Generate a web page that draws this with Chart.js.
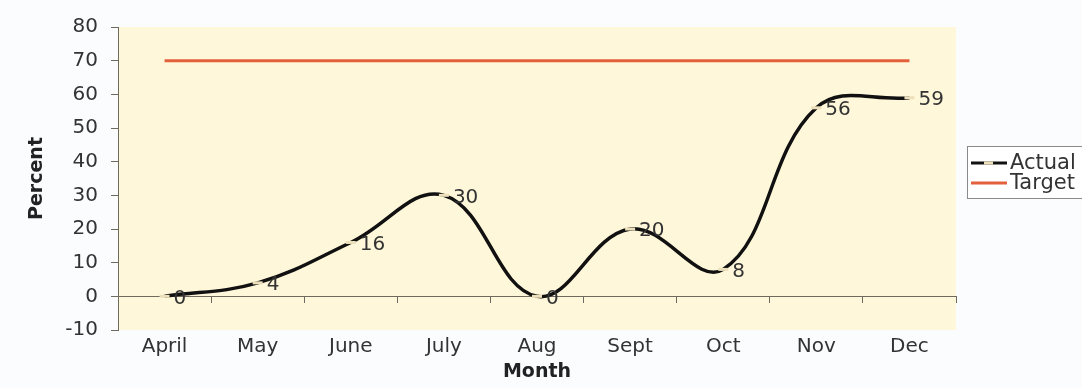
<!DOCTYPE html>
<html>
<head>
<meta charset="utf-8">
<script src="https://cdn.jsdelivr.net/npm/chart.js@4"></script>
<style>
  html, body { margin: 0; padding: 0; background: #fbfcfe; overflow: hidden; }
  canvas { display: block; }
</style>
</head>
<body>
<canvas id="chart" width="1082" height="388"></canvas>
<script>
// values
const months = ['April', 'May', 'June', 'July', 'Aug', 'Sept', 'Oct', 'Nov', 'Dec'];
const actual = [0, 4, 16, 30, 0, 20, 8, 56, 59];
const target = [70, 70, 70, 70, 70, 70, 70, 70, 70];
const yMin = -10;
const yMax = 80;
const yStep = 10;

const FONT = 'DejaVu Sans';
const TEXT = '#333333';
const AXIS = '#6f6a5e';
const LINE_ACTUAL = '#111111';
const LINE_TARGET = '#e2603c';
const MARKER = '#ece0bb';

const plotBg = {
    id: 'plotBg',
    beforeDraw(chart) {
        const { ctx, chartArea: a } = chart;
        ctx.save();
        ctx.fillStyle = '#fff7d9';
        ctx.fillRect(a.left, a.top, a.right - a.left, a.bottom - a.top);
        ctx.restore();
    }
};

const valueLabels = {
    id: 'valueLabels',
    afterDatasetsDraw(chart) {
        const { ctx } = chart;
        const meta = chart.getDatasetMeta(0);
        ctx.save();
        ctx.font = '20px "' + FONT + '"';
        ctx.fillStyle = TEXT;
        ctx.textAlign = 'left';
        ctx.textBaseline = 'middle';
        meta.data.forEach((pt, i) => {
            ctx.fillText(String(actual[i]), pt.x + 9, pt.y + 2);
        });
        ctx.restore();
    }
};

// legend box on the right, partly cut off by the window edge
const sideLegend = {
    id: 'sideLegend',
    afterDraw(chart) {
        const { ctx, chartArea: a } = chart;
        const x0 = a.right + 11;
        const y0 = 146;
        ctx.save();
        ctx.fillStyle = '#ffffff';
        ctx.fillRect(x0, y0, 140, 52);
        ctx.strokeStyle = '#8a8a8a';
        ctx.lineWidth = 1;
        ctx.strokeRect(x0 + 0.5, y0 + 0.5, 140, 52);

        const rows = [
            { label: chart.data.datasets[0].label, color: LINE_ACTUAL, marker: true, y: y0 + 17 },
            { label: chart.data.datasets[1].label, color: LINE_TARGET, marker: false, y: y0 + 37 }
        ];
        ctx.font = '21px "' + FONT + '"';
        ctx.textBaseline = 'middle';
        rows.forEach(r => {
            ctx.strokeStyle = r.color;
            ctx.lineWidth = 3;
            ctx.beginPath();
            ctx.moveTo(x0 + 4, r.y);
            ctx.lineTo(x0 + 40, r.y);
            ctx.stroke();
            if (r.marker) {
                ctx.strokeStyle = MARKER;
                ctx.lineWidth = 3;
                ctx.beginPath();
                ctx.moveTo(x0 + 17, r.y);
                ctx.lineTo(x0 + 26, r.y);
                ctx.stroke();
            }
            ctx.fillStyle = TEXT;
            ctx.fillText(r.label, x0 + 43, r.y + 1);
        });
        ctx.restore();
    }
};

new Chart(document.getElementById('chart'), {
    type: 'line',
    data: {
        labels: months,
        datasets: [{
            label: 'Actual',
            data: actual,
            borderColor: LINE_ACTUAL,
            borderWidth: 3.5,
            tension: 0.4,
            pointStyle: 'line',
            pointRadius: 5,
            pointBorderColor: MARKER,
            pointBackgroundColor: MARKER,
            pointBorderWidth: 3,
            order: 1
        }, {
            label: 'Target',
            data: target,
            borderColor: LINE_TARGET,
            borderWidth: 3,
            pointRadius: 0,
            order: 2
        }]
    },
    options: {
        responsive: false,
        animation: false,
        events: [],
        layout: {
            padding: { top: 27, right: 126, left: 0, bottom: 0 }
        },
        plugins: {
            legend: { display: false },
            tooltip: { enabled: false }
        },
        scales: {
            x: {
                type: 'category',
                position: 'bottom',
                offset: true,
                grid: { display: false, drawTicks: false },
                border: { display: false },
                ticks: {
                    color: TEXT,
                    font: { family: FONT, size: 20 },
                    padding: 5,
                    maxRotation: 0,
                    autoSkip: false
                },
                title: {
                    display: true,
                    text: 'Month',
                    color: '#222222',
                    font: { family: FONT, size: 19, weight: 'bold' },
                    padding: { top: 0, bottom: 5 }
                },
                afterFit(scale) { scale.height = 58; }
            },
            x2: {
                type: 'category',
                labels: months,
                position: { y: 0 },
                offset: true,
                grid: { offset: true, drawOnChartArea: false, drawTicks: true, tickLength: 6, color: AXIS },
                border: { display: true, color: AXIS, width: 1 },
                ticks: { display: false }
            },
            y: {
                min: yMin,
                max: yMax,
                grid: { drawOnChartArea: false, drawTicks: true, tickLength: 7, color: AXIS },
                border: { display: true, color: AXIS, width: 1 },
                ticks: {
                    stepSize: yStep,
                    color: TEXT,
                    font: { family: FONT, size: 20 },
                    padding: 13
                },
                title: {
                    display: true,
                    text: 'Percent',
                    color: '#222222',
                    font: { family: FONT, size: 19, weight: 'bold' },
                    padding: { top: 26, bottom: 0 }
                },
                afterFit(scale) { scale.width = 118; }
            }
        }
    },
    plugins: [plotBg, valueLabels, sideLegend]
});
</script>
</body>
</html>
